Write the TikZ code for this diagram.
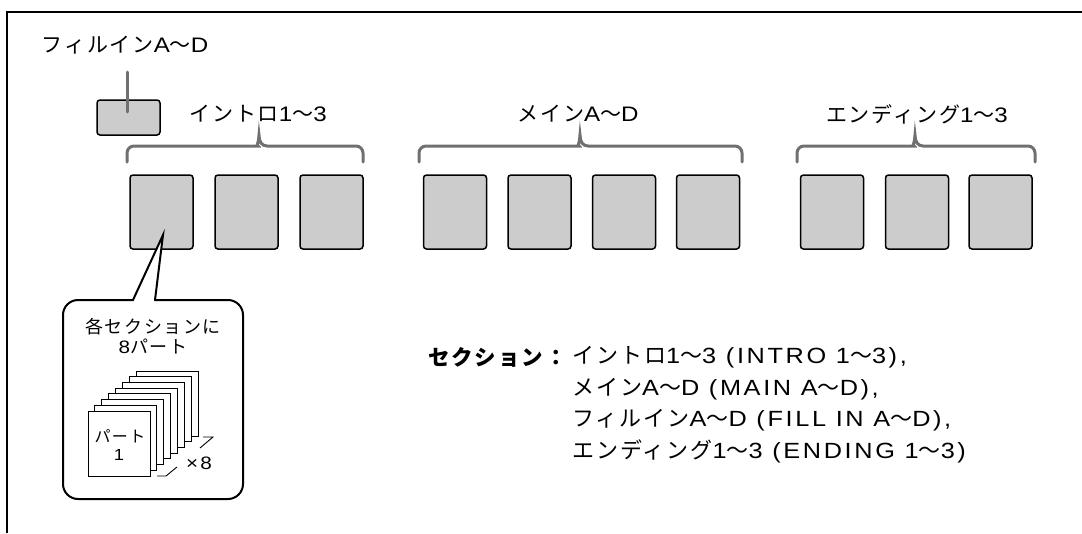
\documentclass[tikz,border=0pt]{standalone}
\usepackage{fontspec}
\setmainfont[LetterSpace=9]{Noto Sans CJK JP}
\newfontfamily\latf[FakeStretch=1.15,LetterSpace=12]{Liberation Sans}
\newcommand\latn[1]{{\latf #1}}
\usetikzlibrary{calc}
\definecolor{boxgray}{HTML}{CCCCCC}
\definecolor{bracegray}{HTML}{707070}
\tikzset{
  secbox/.style={draw=black, line width=1.5pt, fill=boxgray, rounded corners=3pt,
    minimum width=63pt, minimum height=74pt, inner sep=0pt},
  fillbox/.style={secbox, minimum height=35pt},
  lbl/.style={font=\fontsize{21}{24}\selectfont, inner sep=0pt},
  brc/.style={draw=bracegray, line width=3pt, line cap=round},
  page/.style={draw=black, line width=0.9pt, fill=white, minimum width=62pt,
    minimum height=65pt, inner sep=0pt},
  small/.style={font=\fontsize{18}{21}\selectfont, inner sep=0pt, align=center},
  tiny/.style={font=\fontsize{16}{19}\selectfont, inner sep=0pt, align=center},
  legend/.style={font=\fontsize{22}{25}\selectfont, inner sep=0pt, anchor=west},
}
\begin{document}
\begin{tikzpicture}[x=1pt, y=-1pt]
\useasboundingbox (0,0) rectangle (1082,533);
% frame
\draw[line width=2pt] (7,533) -- (7,12) -- (1082,12);

% fill-in
\node[lbl] (fillLbl) at (125,45) {フィルイン\latn{A}〜\latn{D}};
\node[fillbox] (fill) at (128.5,117.5) {};
\coordinate (fillTop) at (127,72);
\coordinate (fillEnd) at (127,112);
\draw[brc] (fillTop) -- (fillEnd);

% intro
\node[lbl] (introLbl) at (258,114) {イントロ\latn{1}〜\latn{3}};
\foreach \n/\x in {1/161.5, 2/246.5, 3/331.5}
  \node[secbox] (i\n) at (\x,212) {};
% main
\node[lbl] (mainLbl) at (578,114) {メイン\latn{A}〜\latn{D}};
\foreach \n/\x in {1/455, 2/539.5, 3/624, 4/708}
  \node[secbox] (m\n) at (\x,212) {};
% ending
\node[lbl] (endLbl) at (917,114) {エンディング\latn{1}〜\latn{3}};
\foreach \n/\x in {1/832, 2/917, 3/1000.5}
  \node[secbox] (e\n) at (\x,212) {};

% braces
\foreach \L/\T/\R in {127/259/363, 419/580/742, 797/915/1035}{
  \draw[brc] (\L,162) [rounded corners=7pt] -- (\L,146) -- (\T-8,146) [sharp corners]
    .. controls (\T-3,146) and (\T,142) .. (\T,135)
    .. controls (\T,142) and (\T+3,146) .. (\T+8,146) [rounded corners=7pt]
    -- (\R,146) -- (\R,162);
}

% callout
\node[draw=black, line width=2pt, rounded corners=15pt, minimum width=180pt,
  minimum height=199pt, inner sep=0pt] (callout) at (153,399.5) {};
\coordinate (tip) at (163,235);
\coordinate (pl) at (133,300);
\coordinate (pr) at (155,300);
\fill[white] (pl) -- (tip) -- (pr) -- cycle;
\fill[white] ($(pl)+(1,2)$) rectangle ($(pr)+(-1,-2)$);
\draw[line width=2pt, line join=miter] (pl) -- (tip) -- (pr);

\node[small] (calloutTxt1) at (153,327) {各セクションに};
\node[small] (calloutTxt2) at (153,346) {\latn{8}パート};

% stack of pages
\foreach \k in {7,6,...,1}
  \node[page] (p\k) at ({119+6.9*\k},{443.5-5.7*\k}) {};
\node[page] (p0) at (119,443.5) {};
\node[tiny] (p0txt1) at (120,436) {パート};
\node[tiny] (p0txt2) at (119,455) {\latn{1}};

% x8 marks
\coordinate (b1) at (157,476);
\coordinate (b2) at (166,476);
\coordinate (b3) at (177,467);
\coordinate (t1) at (200,448);
\coordinate (t2) at (213,437);
\coordinate (t3) at (203,437);
\draw[line width=0.9pt] (b1) -- (b2) -- (b3);
\draw[line width=0.9pt] (t1) -- (t2) -- (t3);
\node[small] (times8) at (199,463) {\latn{×8}};

% legend
\node[font=\fontsize{21.5}{24}\selectfont\bfseries, inner sep=0pt, anchor=east] (secHead) at (567,357) {セクション：};
\node[legend] (l1) at (572,357) {イントロ\latn{1}〜\latn{3 (INTRO 1}〜\latn{3),}};
\node[legend] (l2) at (572,389) {メイン\latn{A}〜\latn{D (MAIN A}〜\latn{D),}};
\node[legend] (l3) at (572,420) {フィルイン\latn{A}〜\latn{D (FILL IN A}〜\latn{D),}};
\node[legend] (l4) at (572,451) {エンディング\latn{1}〜\latn{3 (ENDING 1}〜\latn{3)}};
\end{tikzpicture}
\end{document}
